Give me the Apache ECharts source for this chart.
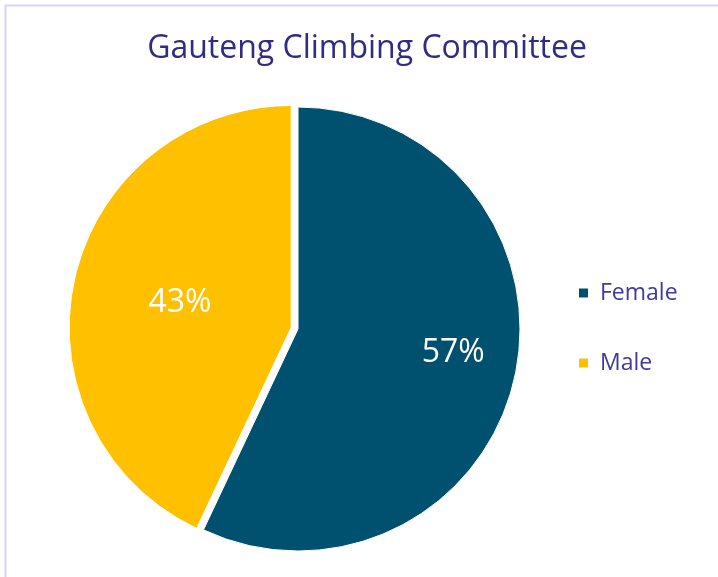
<!DOCTYPE html>
<html>
<head>
<meta charset="utf-8">
<script src="https://cdn.jsdelivr.net/npm/echarts@6/dist/echarts.min.js"></script>
<style>
  html, body { margin: 0; padding: 0; background: #fff; }
  #chart { width: 718px; height: 577px; }
</style>
</head>
<body>
<div id="chart"></div>
<script>
const categories = ['Female', 'Male']
const shares = [57, 43]
const colors = ['#00506F', '#FFC000']
// nudges for the inside labels (Excel puts them further out than ECharts does)
const labelOffsets = [[44, -1], [-25, 17]]

const chart = echarts.init(document.getElementById('chart'))

chart.setOption({
  animation: false,
  title: {
    text: 'Gauteng Climbing Committee',
    left: 362,
    top: 28,
    textAlign: 'center',
    textStyle: { fontFamily: 'Open Sans', fontSize: 32, fontWeight: 'normal', color: '#302C85' },
  },
  legend: {
    orient: 'vertical',
    left: 572,
    top: 275,
    itemWidth: 11,
    itemHeight: 11,
    itemGap: 44,
    icon: 'rect',
    selectedMode: false,
    textStyle: { fontFamily: 'Open Sans', fontSize: 23, color: '#403A9E', lineHeight: 26, padding: [0, 0, 0, 6] },
  },
  graphic: [{
    type: 'rect',
    shape: { x: 5.5, y: 5.5, width: 760, height: 620 },
    style: { fill: 'none', stroke: '#D6D4F2', lineWidth: 2 },
    silent: true,
  }],
  series: [{
    type: 'pie',
    center: [298, 329],
    radius: 222,
    startAngle: 90,
    clockwise: true,
    selectedMode: 'single',
    selectedOffset: 7,
    itemStyle: { borderColor: '#fff', borderWidth: 1 },
    label: {
      position: 'inside',
      formatter: '{d}%',
      fontFamily: 'Open Sans',
      fontSize: 32,
      color: '#fff',
    },
    labelLine: { show: false },
    emphasis: { disabled: true },
    data: categories.map((name, i) => ({
      name,
      value: shares[i],
      selected: name === 'Male',
      itemStyle: { color: colors[i] },
      label: { offset: labelOffsets[i] },
    })),
  }],
})
</script>
</body>
</html>
